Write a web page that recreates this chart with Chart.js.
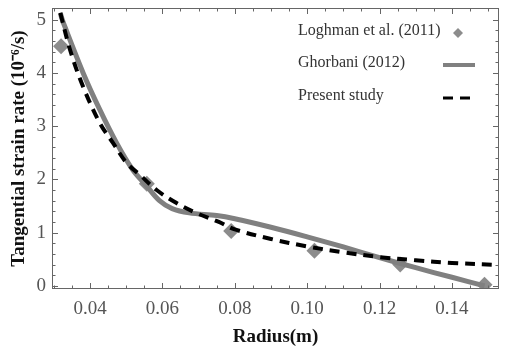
<!DOCTYPE html>
<html>
<head>
<meta charset="utf-8">
<script src="https://cdn.jsdelivr.net/npm/chart.js@4.4.1/dist/chart.umd.min.js"></script>
<style>
  html, body { margin: 0; padding: 0; background: #fff; }
  #wrap { width: 507px; height: 347px; }
</style>
</head>
<body>
<div id="wrap"><canvas id="strainChart" width="507" height="347"></canvas></div>
<script>
// * data
const loghmanR = [0.032, 0.0557, 0.079, 0.102, 0.1257, 0.149];
const loghmanRate = [4.5, 1.92, 1.03, 0.66, 0.4, 0.02];

const ghorbaniR = [0.0318, 0.0326, 0.0381, 0.0427, 0.0473, 0.0518, 0.0556, 0.0592, 0.0627, 0.0674, 0.075, 0.08, 0.09, 0.1, 0.11, 0.12, 0.13, 0.14, 0.149];
const ghorbaniRate = [5.12, 4.95, 4.0, 3.31, 2.69, 2.18, 1.88, 1.6, 1.45, 1.37, 1.32, 1.26, 1.1, 0.92, 0.73, 0.53, 0.34, 0.16, 0.0];

const presentR = [0.0318, 0.0345, 0.0381, 0.0427, 0.0463, 0.0501, 0.0537, 0.0584, 0.0638, 0.0693, 0.0756, 0.08, 0.09, 0.1, 0.11, 0.12, 0.13, 0.14, 0.153];
const presentRate = [5.13, 4.43, 3.74, 3.06, 2.69, 2.31, 2.09, 1.8, 1.56, 1.37, 1.2, 1.06, 0.88, 0.74, 0.63, 0.54, 0.48, 0.43, 0.39];

const xTicks = [0.04, 0.06, 0.08, 0.1, 0.12, 0.14];
const yTicks = [0, 1, 2, 3, 4, 5];

const toPts = (xs, ys) => xs.map((x, i) => ({ x: x, y: ys[i] }));

// ? tick marks drawn inside the frame, on all four sides
const frameTicks = {
  id: "frameTicks",
  afterDatasetsDraw(chart) {
    const ctx = chart.ctx;
    const a = chart.chartArea;
    const sx = chart.scales.x;
    const sy = chart.scales.y;
    ctx.save();
    ctx.strokeStyle = "#666";
    ctx.lineWidth = 1;
    ctx.strokeRect(a.left + 0.5, a.top + 0.5, a.right - a.left - 1, a.bottom - a.top - 1);
    ctx.beginPath();
    for (let v = 0.03; v <= 0.1531; v += 0.005) {
      const px = Math.round(sx.getPixelForValue(v)) + 0.5;
      const major = Math.abs(Math.round(v / 0.02) * 0.02 - v) < 1e-6;
      const len = major ? 6 : 3.5;
      ctx.moveTo(px, a.bottom);
      ctx.lineTo(px, a.bottom - len);
      ctx.moveTo(px, a.top);
      ctx.lineTo(px, a.top + len);
    }
    for (let v = 0; v <= 5.2; v += 0.2) {
      const py = Math.round(sy.getPixelForValue(v)) + 0.5;
      const major = Math.abs(Math.round(v) - v) < 1e-6;
      const len = major ? 6 : 3.5;
      ctx.moveTo(a.left, py);
      ctx.lineTo(a.left + len, py);
      ctx.moveTo(a.right, py);
      ctx.lineTo(a.right - len, py);
    }
    ctx.stroke();
    ctx.restore();
  },
};

// ? legend with text on the left and the symbol on the right
const sideLegend = {
  id: "sideLegend",
  afterDraw(chart) {
    const ctx = chart.ctx;
    const ds = chart.data.datasets;
    const textX = 298;
    const symX = 443;
    const rows = [33, 65, 98];
    ctx.save();
    ctx.font = "16px 'Liberation Serif', 'Times New Roman', serif";
    ctx.fillStyle = "#333";
    ctx.textBaseline = "middle";
    ds.forEach((d, i) => {
      const y = rows[i];
      ctx.fillText(d.label, textX, y - 2);
      if (d.showLine === false) {
        ctx.fillStyle = d.backgroundColor;
        ctx.beginPath();
        ctx.moveTo(symX + 15, y - 5);
        ctx.lineTo(symX + 20, y);
        ctx.lineTo(symX + 15, y + 5);
        ctx.lineTo(symX + 10, y);
        ctx.closePath();
        ctx.fill();
        ctx.fillStyle = "#333";
      } else {
        ctx.strokeStyle = d.borderColor;
        ctx.lineWidth = d.borderWidth - 1;
        ctx.setLineDash(d.borderDash || []);
        ctx.beginPath();
        ctx.moveTo(symX, y);
        ctx.lineTo(symX + 32, y);
        ctx.stroke();
        ctx.setLineDash([]);
      }
    });
    ctx.restore();
  },
};

const serif = "'Liberation Serif', 'Times New Roman', serif";

new Chart(document.getElementById("strainChart").getContext("2d"), {
  type: "scatter",
  data: {
    datasets: [
      {
        label: "Loghman et al. (2011)",
        data: toPts(loghmanR, loghmanRate),
        showLine: false,
        pointStyle: "rectRot",
        pointRadius: 8,
        backgroundColor: "#8c8c8c",
        borderColor: "#8c8c8c",
        borderWidth: 0,
        order: 3,
      },
      {
        label: "Ghorbani (2012)",
        data: toPts(ghorbaniR, ghorbaniRate),
        showLine: true,
        pointRadius: 0,
        borderColor: "#808080",
        borderWidth: 5,
        tension: 0.35,
        order: 2,
      },
      {
        label: "Present study",
        data: toPts(presentR, presentRate),
        showLine: true,
        pointRadius: 0,
        borderColor: "#000",
        borderWidth: 4,
        borderDash: [10, 7],
        tension: 0.35,
        order: 1,
      },
    ],
  },
  options: {
    responsive: false,
    animation: false,
    layout: { padding: { top: 8, right: 5, left: 8, bottom: 0 } },
    plugins: { legend: { display: false }, tooltip: { enabled: false } },
    scales: {
      x: {
        type: "linear",
        min: 0.0295,
        max: 0.153,
        grid: { display: false, drawTicks: false },
        border: { display: false },
        afterBuildTicks: (s) => { s.ticks = xTicks.map((v) => ({ value: v })); },
        afterFit: (s) => { s.height = 58; s.paddingLeft = 0; s.paddingRight = 0; },
        ticks: {
          padding: 9,
          color: "#555",
          font: { family: serif, size: 19 },
          callback: (v) => v.toFixed(2),
        },
        title: {
          display: true,
          text: "Radius(m)",
          color: "#111",
          font: { family: serif, size: 19, weight: "bold", lineHeight: 1.0 },
          padding: { top: 0, bottom: 0 },
        },
      },
      y: {
        min: -0.06,
        max: 5.22,
        grid: { display: false, drawTicks: false },
        border: { display: false },
        afterBuildTicks: (s) => { s.ticks = yTicks.map((v) => ({ value: v })); },
        afterFit: (s) => { s.width = 44; s.paddingTop = 0; s.paddingBottom = 0; },
        ticks: {
          padding: 6,
          color: "#555",
          font: { family: serif, size: 19 },
        },
        title: {
          display: true,
          text: "Tangential strain rate (10\u207B\u2076/s)",
          color: "#111",
          font: { family: serif, size: 19, weight: "bold" },
          padding: { top: 0, bottom: 0 },
        },
      },
    },
  },
  plugins: [frameTicks, sideLegend],
});
</script>
</body>
</html>
